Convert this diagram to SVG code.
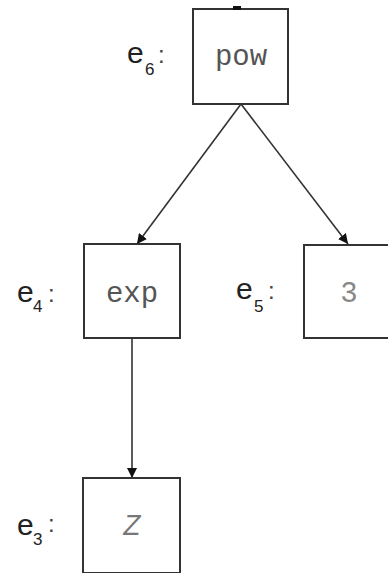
<svg xmlns="http://www.w3.org/2000/svg" width="388" height="573" viewBox="0 0 388 573">
<defs>
<style>
.box{fill:#fff;stroke:#333;stroke-width:2}
.t{font-family:"Liberation Mono","Courier New",monospace;font-size:29px;fill:#555;text-anchor:middle}
.e{font-family:"Liberation Sans",Arial,sans-serif;font-size:30px;fill:#222}
.s{font-family:"Liberation Sans",Arial,sans-serif;font-size:17px;fill:#222}
.c{font-family:"Liberation Sans",Arial,sans-serif;font-size:24px;fill:#444}
.edge{stroke:#333;stroke-width:1.6;fill:none;marker-end:url(#ah)}
</style>
<marker id="ah" viewBox="0 0 10 10" refX="10" refY="5" markerWidth="10" markerHeight="10" markerUnits="userSpaceOnUse" orient="auto">
<path d="M0,0 L10,5 L0,10 Z" fill="#111"/>
</marker>
</defs>
<rect width="388" height="573" fill="#fff"/>
<g id="connectors">
<line class="edge" x1="241" y1="104" x2="137" y2="244"/>
<line class="edge" x1="241" y1="104" x2="348" y2="244"/>
<line class="edge" x1="132" y1="338" x2="132" y2="478"/>
</g>
<g id="e6">
<rect class="box" x="193" y="9" width="95" height="95"/>
<rect x="233" y="6" width="8" height="4" fill="#111"/>
<text class="t" x="241" y="65">pow</text>
<text class="e" x="127" y="63">e</text><text class="s" x="145" y="75">6</text><text class="c" x="158" y="63">:</text>
</g>
<g id="e4">
<rect class="box" x="84" y="244" width="96" height="94"/>
<text class="t" x="132" y="302">exp</text>
<text class="e" x="17" y="302">e</text><text class="s" x="33" y="312">4</text><text class="c" x="48" y="302">:</text>
</g>
<g id="e5">
<rect class="box" x="304" y="245" width="96" height="93"/>
<text class="t" x="349" y="302" style="fill:#888">3</text>
<text class="e" x="236" y="299">e</text><text class="s" x="254" y="312">5</text><text class="c" x="268" y="299">:</text>
</g>
<g id="e3">
<rect class="box" x="83" y="478" width="97" height="95"/>
<text class="t" x="132" y="535" style="font-style:italic;fill:#777">Z</text>
<text class="e" x="17" y="535">e</text><text class="s" x="33" y="545">3</text><text class="c" x="48" y="532">:</text>
</g>
</svg>
